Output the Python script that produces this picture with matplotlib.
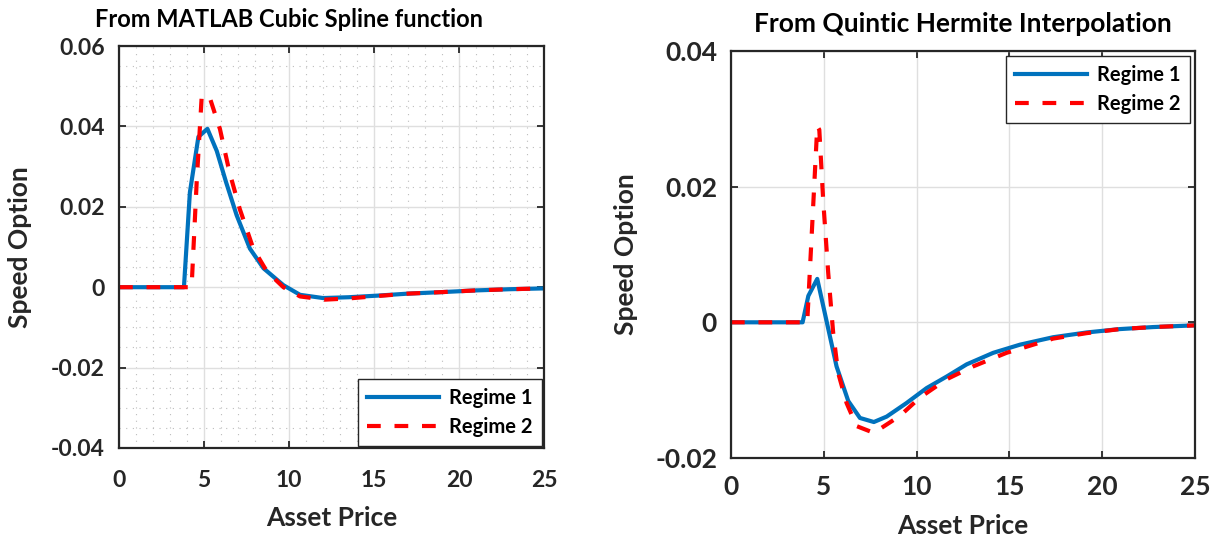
import matplotlib
matplotlib.use("Agg")
import matplotlib.pyplot as plt
from matplotlib.ticker import MultipleLocator, FixedLocator, FuncFormatter

plt.rcParams['font.family'] = ['Lato', 'DejaVu Sans']
plt.rcParams['font.weight'] = 'bold'
plt.rcParams['axes.unicode_minus'] = False

# ---- data: left panel (MATLAB cubic spline) ----
x1L = [0, 3.82, 4.17, 4.67, 5.2, 5.75, 6.3, 6.92, 7.7, 8.5, 9.67, 10.65, 12.0, 13.5, 15.2, 17, 19.1, 21, 23, 25]
y1L = [0, 0, 0.0236, 0.0374, 0.0394, 0.0339, 0.0261, 0.0179, 0.0096, 0.0047, 0.0005, -0.0019, -0.0027,
       -0.0025, -0.0021, -0.0016, -0.0012, -0.0008, -0.0005, -0.0003]
x2L = [0, 4.27, 4.57, 4.86, 5.15, 5.35, 5.94, 6.5, 7.1, 7.9, 8.7, 9.67, 10.65, 12.1, 13.5, 15.2, 17, 19.1, 21, 23, 25]
y2L = [0, 0, 0.0262, 0.0471, 0.0479, 0.047, 0.0393, 0.0286, 0.0195, 0.0096, 0.0039, 0.0, -0.0023, -0.0031,
       -0.0028, -0.0022, -0.0016, -0.0012, -0.0008, -0.0005, -0.0003]

# ---- data: right panel (quintic Hermite) ----
x1R = [0, 3.86, 4.17, 4.65, 5.69, 6.32, 6.95, 7.7, 8.39, 9.46, 10.54, 11.62, 12.7, 14.13, 15.57, 17.36,
       19.16, 20.95, 22.75, 25]
y1R = [0, 0, 0.0039, 0.0064, -0.0065, -0.0116, -0.0141, -0.0147, -0.0139, -0.0119, -0.0097, -0.008,
       -0.0062, -0.0045, -0.0033, -0.0022, -0.0015, -0.001, -0.0007, -0.00045]
x2R = [0, 4.11, 4.65, 4.76, 4.97, 5.24, 5.51, 5.78, 6.23, 6.77, 7.7, 9.1, 10.18, 11.62, 13.05, 14.85,
       17.36, 19.16, 20.95, 22.75, 25]
y2R = [0, 0, 0.0289, 0.0284, 0.018, 0.0073, -0.0016, -0.0075, -0.0119, -0.0153, -0.0163, -0.0138,
       -0.0111, -0.0084, -0.0065, -0.0045, -0.0024, -0.0016, -0.001, -0.0007, -0.00045]

labels = ["Regime 1", "Regime 2"]
titles = ["From MATLAB Cubic Spline function", "From Quintic Hermite Interpolation"]
xticksv = [0, 5, 10, 15, 20, 25]
yticksL = [-0.04, -0.02, 0, 0.02, 0.04, 0.06]
yticksR = [-0.02, 0, 0.02, 0.04]

BLUE = '#0072BD'
RED = '#FF0000'
TXT = '#262626'

fig = plt.figure(figsize=(12.13, 5.40), dpi=100)
axL = fig.add_axes([0.0981, 0.1704, 0.3504, 0.7444])
axR = fig.add_axes([0.6026, 0.1519, 0.3825, 0.7537])

def fmt(v, pos):
    if abs(v) < 1e-12:
        return "0"
    return "%g" % v

def style(ax, yt, ylim, minor, ticksize, labsize, xpad, xlabpad):
    ax.set_xlim(0, 25)
    ax.set_ylim(*ylim)
    ax.xaxis.set_major_locator(FixedLocator(xticksv))
    ax.yaxis.set_major_locator(FixedLocator(yt))
    ax.yaxis.set_major_formatter(FuncFormatter(fmt))
    ax.grid(True, which='major', color='#DFDFDF', lw=1.0)
    if minor:
        ax.xaxis.set_minor_locator(MultipleLocator(1))
        ax.yaxis.set_minor_locator(MultipleLocator(0.005))
        ax.grid(True, which='minor', color='#BDBDBD', lw=0.8, linestyle=(0, (1, 5)))
    ax.set_axisbelow(True)
    ax.tick_params(which='major', direction='in', length=5, width=1.3, top=True, right=True,
                   labelsize=ticksize, colors=TXT)
    ax.tick_params(axis='x', which='major', pad=xpad)
    ax.tick_params(axis='y', which='major', pad=10)
    ax.tick_params(which='minor', length=0, top=True, right=True)
    for lab in ax.get_xticklabels() + ax.get_yticklabels():
        lab.set_fontweight('bold')
        lab.set_color(TXT)
    for s in ax.spines.values():
        s.set_linewidth(1.6)
        s.set_color(TXT)
    ax.set_xlabel("Asset Price", fontsize=labsize, fontweight='bold', color=TXT, labelpad=xlabpad)
    ax.set_ylabel("Speed Option", fontsize=labsize, fontweight='bold', color=TXT)

legkw = dict(fontsize=14.5, fancybox=False, framealpha=1, edgecolor=TXT,
             handlelength=3.6, borderpad=0.45, labelspacing=0.45, handletextpad=0.5)

# left
axL.plot(x1L, y1L, color=BLUE, lw=3.0, label=labels[0])
axL.plot(x2L, y2L, color=RED, lw=3.0, dashes=(3.3, 3.3), label=labels[1])
style(axL, yticksL, (-0.04, 0.06), True, 16.5, 19, 16, 10.5)
axL.set_title(titles[0], fontsize=17, fontweight='bold', pad=14, x=0.401)
legL = axL.legend(loc='lower right', borderaxespad=0.1, **legkw)
legL.get_frame().set_linewidth(1.0)

# right
axR.plot(x1R, y1R, color=BLUE, lw=3.0, label=labels[0])
axR.plot(x2R, y2R, color=RED, lw=3.0, dashes=(3.3, 3.3), label=labels[1])
style(axR, yticksR, (-0.02, 0.04), False, 19, 19, 12, 11)
axR.set_title(titles[1], fontsize=19, fontweight='bold', pad=14)
legR = axR.legend(loc='upper right', borderaxespad=0.25, **legkw)
legR.get_frame().set_linewidth(1.0)

axL.yaxis.set_label_coords(-0.205, 0.5)
axR.yaxis.set_label_coords(-0.20, 0.5)

fig.savefig("out.png", dpi=100)
